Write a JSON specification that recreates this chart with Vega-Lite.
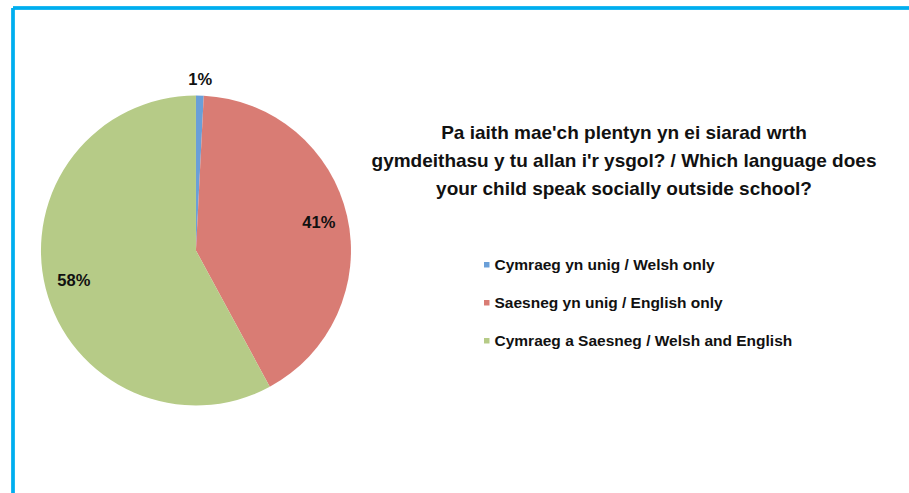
{
  "$schema": "https://vega.github.io/schema/vega-lite/v6.json",
  "width": 896,
  "height": 485,
  "autosize": {"type": "none"},
  "padding": {"left": 13, "top": 8, "right": 0, "bottom": 0},
  "background": "white",
  "config": {"view": {"stroke": null}},
  "title": {
    "text": ["Pa iaith mae'ch plentyn yn ei siarad wrth", "gymdeithasu y tu allan i'r ysgol? / Which language does", "your child speak socially outside school?"],
    "anchor": "start",
    "frame": "group",
    "align": "center",
    "dx": 611,
    "dy": 76,
    "baseline": "top",
    "offset": -116,
    "fontSize": 19,
    "lineHeight": 28,
    "font": "Liberation Sans",
    "fontWeight": "bold",
    "color": "#111111"
  },
  "data": {
    "values": [
      {"category": "Cymraeg yn unig / Welsh only", "share": 0.008, "order": 1},
      {"category": "Saesneg yn unig / English only", "share": 0.413, "order": 2},
      {"category": "Cymraeg a Saesneg / Welsh and English", "share": 0.579, "order": 3}
    ]
  },
  "layer": [
    {
      "mark": {"type": "arc", "outerRadius": 155},
      "encoding": {
        "theta": {"field": "share", "type": "quantitative", "stack": true},
        "order": {"field": "order", "type": "quantitative"},
        "x": {"datum": 0.2042, "type": "quantitative", "scale": {"domain": [0, 1], "nice": false, "zero": false}, "axis": null},
        "color": {
          "field": "category",
          "type": "nominal",
          "scale": {
            "domain": ["Cymraeg yn unig / Welsh only", "Saesneg yn unig / English only", "Cymraeg a Saesneg / Welsh and English"],
            "range": ["#6A9FD8", "#D97C74", "#B6CB87"]
          },
          "legend": {
            "orient": "none",
            "legendX": 466,
            "legendY": 249,
            "title": null,
            "symbolType": "square",
            "symbolSize": 30,
            "symbolStrokeWidth": 0,
            "labelFontSize": 15.5,
            "labelFont": "Liberation Sans",
            "labelFontWeight": "bold",
            "labelColor": "#111111",
            "labelOffset": 0,
            "rowPadding": 21,
            "padding": 0,
            "labelLimit": 600
          }
        }
      }
    },
    {
      "mark": {"type": "text", "radius": 171, "fontSize": 16.5, "fontWeight": "bold", "font": "Liberation Sans", "color": "#111111"},
      "encoding": {
        "theta": {"field": "share", "type": "quantitative", "stack": true},
        "order": {"field": "order", "type": "quantitative"},
        "x": {"datum": 0.2042, "type": "quantitative"},
        "text": {"condition": {"test": "datum.share < 0.05", "field": "share", "format": ".0%"}, "value": ""}
      }
    },
    {
      "mark": {"type": "text", "radius": 126, "fontSize": 16.5, "fontWeight": "bold", "font": "Liberation Sans", "color": "#111111"},
      "encoding": {
        "theta": {"field": "share", "type": "quantitative", "stack": true},
        "order": {"field": "order", "type": "quantitative"},
        "x": {"datum": 0.2042, "type": "quantitative"},
        "text": {"condition": {"test": "datum.share >= 0.05", "field": "share", "format": ".0%"}, "value": ""}
      }
    },
    {
      "mark": {"type": "rule", "color": "#00AEEF", "strokeWidth": 3},
      "encoding": {"x": {"datum": 0, "type": "quantitative"}}
    },
    {
      "mark": {"type": "rule", "color": "#00AEEF", "strokeWidth": 3},
      "encoding": {"y": {"datum": 1, "type": "quantitative", "scale": {"domain": [0, 1], "nice": false, "zero": false}, "axis": null}}
    }
  ]
}
